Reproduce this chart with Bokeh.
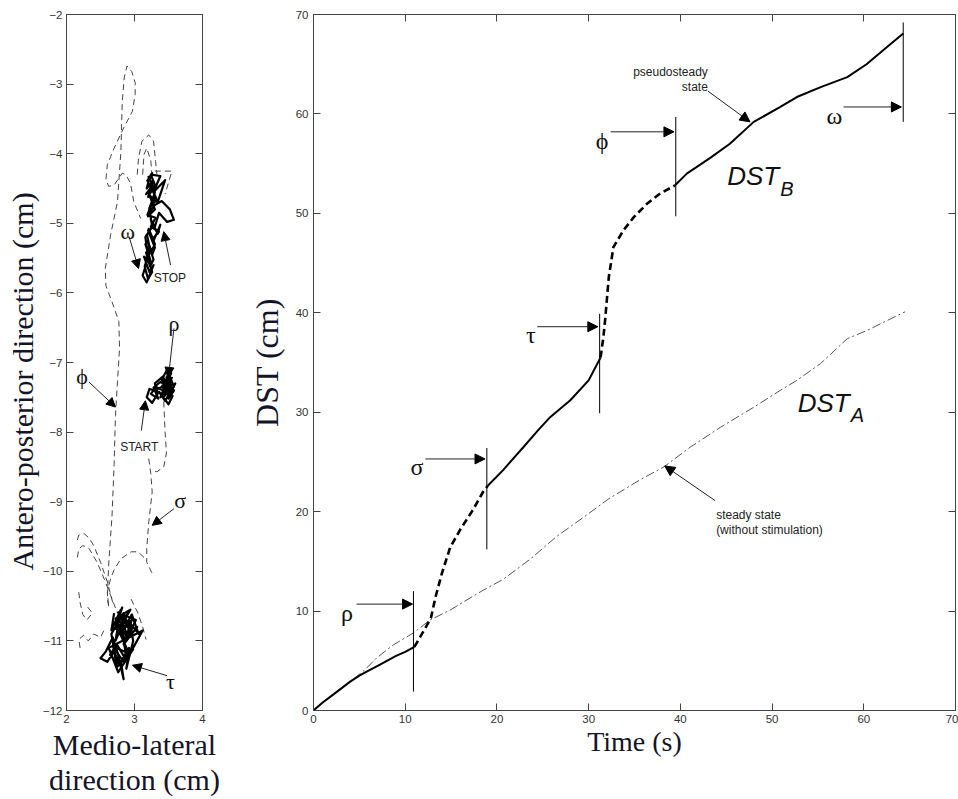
import math
from bokeh.plotting import figure
from bokeh.models import Range1d, LinearAxis, FixedTicker, Arrow, NormalHead, Label, ColumnDataSource, Title
from bokeh.layouts import row
from bokeh.embed import file_html
from bokeh.resources import INLINE

# ---------------- Right panel data: DST vs time ----------------
b_solid1_t = [0, 1, 2, 3, 4, 5, 6, 7, 8, 9, 10, 11]
b_solid1_d = [0, 0.8, 1.5, 2.2, 2.9, 3.5, 4.0, 4.5, 5.0, 5.5, 5.9, 6.4]
b_dash1_t = [11, 11.5, 12.2, 12.8, 13.3, 14.0, 14.9, 16.0, 17.4, 18.5, 19.0]
b_dash1_d = [6.4, 7.2, 8.3, 9.3, 11.4, 13.8, 16.4, 18.2, 20.2, 22.0, 22.6]
b_solid2_t = [19.0, 20.7, 22.9, 24.5, 25.8, 28.0, 30.0, 31.3]
b_solid2_d = [22.6, 24.2, 26.5, 28.2, 29.5, 31.2, 33.2, 35.5]
b_dash2_t = [31.3, 31.6, 31.8, 32.2, 32.7, 33.8, 34.9, 36.4, 37.8, 39.4]
b_dash2_d = [35.5, 37.5, 39.3, 43.6, 46.6, 48.3, 49.6, 51.0, 52.0, 52.8]
b_solid3_t = [39.4, 40.7, 43.3, 45.4, 48.0, 50.9, 52.7, 55.3, 58.2, 60.3, 62.5, 64.3]
b_solid3_d = [52.8, 54.0, 55.6, 57.0, 59.2, 60.7, 61.7, 62.7, 63.7, 65.0, 66.7, 68.1]

a_t = [0, 2, 4, 5.5, 6.9, 8.7, 10.9, 12.7, 14.9, 16.5, 18.5, 20.7, 23.6, 26.5, 29.4,
       32.2, 35.6, 38.2, 41.1, 44.4, 48.0, 50.9, 52.7, 55.3, 58.2, 60.3, 62.5, 64.5]
a_d = [0, 1.5, 2.9, 4.0, 5.3, 6.6, 7.8, 9.1, 10.1, 11.0, 12.1, 13.2, 15.2, 17.5, 19.4,
       21.3, 23.2, 24.5, 26.5, 28.5, 30.5, 32.2, 33.2, 34.9, 37.4, 38.2, 39.2, 40.1]

phase_names = ["ρ", "σ", "τ", "ϕ", "ω"]
phase_t = [10.9, 18.9, 31.2, 39.5, 64.3]
phase_lo = [1.9, 16.2, 29.9, 49.7, 59.2]
phase_hi = [12.0, 26.4, 39.9, 59.7, 69.2]

# ---------------- Left panel data: stabilogram ----------------
rho_x = [3.50, 3.46, 3.55, 3.42, 3.58, 3.48, 3.40, 3.52, 3.60, 3.45, 3.36, 3.50, 3.56, 3.40,
         3.30, 3.22, 3.18, 3.26, 3.34, 3.30, 3.42, 3.48, 3.38, 3.54, 3.44, 3.58, 3.50, 3.47]
rho_y = [-7.15, -7.30, -7.22, -7.40, -7.35, -7.10, -7.25, -7.45, -7.30, -7.55, -7.42, -7.60, -7.48, -7.35,
         -7.40, -7.38, -7.50, -7.58, -7.45, -7.30, -7.20, -7.38, -7.50, -7.15, -7.28, -7.40, -7.52, -7.20]
rho2_x = [3.46, 3.53, 3.41, 3.57, 3.49, 3.44, 3.55, 3.38, 3.28, 3.35, 3.24, 3.32, 3.45, 3.52, 3.48]
rho2_y = [-7.12, -7.25, -7.33, -7.42, -7.18, -7.48, -7.36, -7.28, -7.36, -7.52, -7.45, -7.35, -7.42, -7.30, -7.08]

tau_x = [2.70, 2.66, 2.80, 2.72, 2.90, 2.78, 2.96, 2.84, 3.04, 2.92, 3.12, 2.98, 2.86, 2.74, 2.64,
         2.78, 2.70, 2.60, 2.50, 2.58, 2.68, 2.76, 2.84, 2.80, 2.92, 2.88, 2.98, 2.94, 3.06, 2.96,
         2.86, 2.76, 2.82, 2.72, 2.90, 2.80, 2.94, 2.84, 2.74]
tau_y = [-10.60, -10.85, -10.55, -11.00, -10.60, -10.90, -10.70, -11.05, -10.80, -10.95, -10.85,
         -11.10, -11.25, -11.05, -11.20, -11.35, -11.15, -11.30, -11.25, -11.15, -10.95, -11.20,
         -11.55, -11.30, -11.10, -11.40, -11.00, -10.75, -10.90, -10.62, -10.80, -10.70, -10.52,
         -10.75, -10.95, -10.65, -10.85, -10.60, -10.78]
tau2_x = [2.75, 2.88, 2.70, 2.95, 2.82, 3.02, 2.88, 2.78, 2.92, 2.68, 2.84, 2.98, 2.76, 2.62,
          2.86, 2.72, 2.94, 2.80, 2.88, 2.74, 2.66, 2.80]
tau2_y = [-10.58, -10.72, -10.82, -10.90, -10.62, -10.70, -11.00, -10.88, -11.18, -11.08, -11.30,
          -11.12, -11.45, -11.10, -10.98, -10.68, -10.55, -10.78, -11.22, -11.38, -10.90, -10.66]

omega_x = [3.22, 3.18, 3.26, 3.20, 3.30, 3.24, 3.38, 3.28, 3.45, 3.34, 3.22, 3.30, 3.20, 3.28,
           3.40, 3.52, 3.58, 3.48, 3.36, 3.30, 3.24, 3.34, 3.38, 3.28, 3.20, 3.30, 3.26, 3.16,
           3.24, 3.14, 3.22, 3.28, 3.18, 3.12, 3.20, 3.16, 3.26, 3.22, 3.30, 3.20, 3.26, 3.18]
omega_y = [-4.35, -4.50, -4.40, -4.62, -4.45, -4.30, -4.32, -4.55, -4.38, -4.70, -4.60, -4.80,
           -4.90, -4.75, -4.68, -4.80, -4.95, -4.98, -4.85, -5.05, -4.95, -5.15, -5.02, -5.25,
           -5.10, -5.35, -5.45, -5.30, -5.55, -5.48, -5.70, -5.60, -5.85, -5.75, -5.50, -5.20,
           -5.05, -4.80, -4.55, -4.42, -4.28, -4.40]
omega2_x = [3.20, 3.27, 3.17, 3.25, 3.33, 3.22, 3.29, 3.19, 3.31, 3.24, 3.36, 3.27, 3.21, 3.30,
            3.25, 3.19, 3.28, 3.23, 3.17, 3.26, 3.20, 3.15, 3.23, 3.18]
omega2_y = [-4.32, -4.45, -4.58, -4.50, -4.66, -4.78, -4.62, -4.88, -4.92, -5.05, -5.12, -5.22,
            -5.08, -5.30, -5.40, -5.25, -5.52, -5.62, -5.42, -5.70, -5.80, -5.62, -5.38, -5.15]

sigma_x = [3.43, 3.45, 3.47, 3.43, 3.33, 3.25]
sigma_y = [-7.56, -8.00, -8.30, -8.50, -8.57, -8.55]
sigma2_x = [3.21, 3.24, 3.26, 3.21, 3.18, 3.18, 3.26]
sigma2_y = [-8.38, -8.60, -8.86, -9.29, -9.67, -9.87, -10.03]
arc_x = [3.14, 3.05, 2.95, 2.80, 2.70, 2.65, 2.60, 2.62]
arc_y = [-9.80, -9.72, -9.72, -9.82, -9.98, -10.10, -10.30, -10.50]
phi_x = [2.62, 2.60, 2.62, 2.67, 2.70, 2.72, 2.75, 2.78, 2.77, 2.67, 2.58, 2.57, 2.65, 2.75,
         2.80, 2.82, 2.85, 2.89, 2.96, 3.01, 3.01, 2.97, 2.84, 2.70, 2.60, 2.58, 2.62, 2.70,
         2.82, 2.87, 2.94, 2.99, 3.09]
phi_y = [-10.50, -10.39, -9.91, -9.19, -8.47, -7.76, -7.27, -6.80, -6.41, -6.13, -5.90, -5.65,
         -5.16, -4.69, -3.97, -3.25, -2.90, -2.74, -2.82, -2.98, -3.15, -3.39, -3.63, -3.92,
         -4.16, -4.37, -4.47, -4.45, -4.28, -4.30, -4.42, -4.69, -4.93]
loop_x = [3.04, 3.06, 3.11, 3.21, 3.28, 3.31, 3.33]
loop_y = [-4.30, -4.06, -3.82, -3.73, -3.82, -4.11, -4.30]
loop2_x = [3.12, 3.14, 3.18, 3.24, 3.26]
loop2_y = [-4.30, -4.01, -3.92, -4.10, -4.35]
cap_x = [3.30, 3.55, 3.45]
cap_y = [-4.25, -4.25, -4.58]
bl1_x = [2.16, 2.18, 2.26, 2.33, 2.40, 2.50, 2.60, 2.68]
bl1_y = [-9.55, -9.48, -9.46, -9.52, -9.63, -9.87, -10.15, -10.45]
bl2_x = [2.16, 2.18, 2.24, 2.33, 2.45, 2.55, 2.65, 2.75]
bl2_y = [-9.80, -9.68, -9.63, -9.67, -9.87, -10.10, -10.35, -10.60]
bl3_x = [2.18, 2.20, 2.24, 2.30, 2.38, 2.30]
bl3_y = [-10.30, -10.45, -10.62, -10.70, -10.60, -10.50]
bl4_x = [2.20, 2.18, 2.25, 2.32, 2.40, 2.50, 2.55]
bl4_y = [-11.10, -10.98, -10.92, -11.00, -10.90, -10.95, -10.85]
br_x = [2.95, 3.05, 3.12, 3.17]
br_y = [-10.40, -10.60, -10.80, -10.98]

AX = "#444444"
TICK_FONT = "Liberation Sans"
LABEL_COLOR = "#141428"


def style_axis(ax):
    ax.axis_line_color = AX
    ax.major_tick_line_color = AX
    ax.major_tick_in = 7
    ax.major_tick_out = 0
    ax.minor_tick_line_color = None
    ax.major_label_text_font = TICK_FONT
    ax.major_label_text_font_size = "11.5px"
    ax.major_label_text_color = "#333333"


def add_box_axes(p, xticks, yticks):
    top = LinearAxis(ticker=FixedTicker(ticks=xticks),
                     major_label_overrides={t: "" for t in xticks})
    right = LinearAxis(ticker=FixedTicker(ticks=yticks),
                       major_label_overrides={t: "" for t in yticks})
    for ax in (top, right):
        style_axis(ax)
        ax.major_label_standoff = 0
    p.add_layout(top, "above")
    p.add_layout(right, "right")


def style_label(ax, size, standoff):
    ax.axis_label_text_font = "Liberation Serif"
    ax.axis_label_text_font_size = size
    ax.axis_label_text_font_style = "normal"
    ax.axis_label_text_color = LABEL_COLOR
    ax.axis_label_standoff = standoff


H = 799
TOP = 14
FRAME_H = 696

# ---------------- Left figure ----------------
pl = figure(width=240, height=H, x_range=Range1d(2, 4), y_range=Range1d(-12, -2),
            output_backend="svg", toolbar_location=None,
            min_border_left=66, min_border_right=38, min_border_top=TOP,
            min_border_bottom=H - TOP - FRAME_H)
pl.grid.visible = False
pl.outline_line_color = AX
lx = pl.below[0]
ly = pl.left[0]
lx.ticker = FixedTicker(ticks=[2, 3, 4])
ly.ticker = FixedTicker(ticks=list(range(-12, -1)))
style_axis(lx)
style_axis(ly)
ly.major_label_standoff = 4
lx.major_label_standoff = 4
lx.axis_label = "Medio-lateral\ndirection (cm)"
style_label(lx, "30px", 2)
lx.axis_label_text_line_height = 1.08
add_box_axes(pl, [2, 3, 4], list(range(-12, -1)))
pl.add_layout(Title(text="Antero-posterior direction (cm)", align="left", offset=140,
                    text_font="Liberation Serif", text_font_size="30px",
                    text_font_style="normal", text_color=LABEL_COLOR, standoff=2), "left")

dash_xs = [sigma_x, sigma2_x, arc_x, phi_x, loop_x, loop2_x, cap_x, bl1_x, bl2_x, bl3_x, bl4_x, br_x]
dash_ys = [sigma_y, sigma2_y, arc_y, phi_y, loop_y, loop2_y, cap_y, bl1_y, bl2_y, bl3_y, bl4_y, br_y]
pl.multi_line(xs=dash_xs, ys=dash_ys, line_color="#444444", line_width=1, line_dash="6 4")
pl.multi_line(xs=[rho_x, rho2_x, tau_x, tau2_x, omega_x, omega2_x],
              ys=[rho_y, rho2_y, tau_y, tau2_y, omega_y, omega2_y],
              line_color="black", line_width=2.2, line_join="round")

left_arrows = ColumnDataSource(dict(
    x0=[2.92, 3.53, 3.58, 2.33, 3.10, 3.58, 3.48],
    y0=[-5.19, -5.60, -6.51, -7.28, -7.98, -9.10, -11.50],
    x1=[3.06, 3.43, 3.50, 2.72, 3.16, 3.26, 2.97],
    y1=[-5.65, -5.12, -7.20, -7.64, -7.55, -9.34, -11.35]))
pl.add_layout(Arrow(end=NormalHead(size=9, fill_color="black", line_color="black"),
                    x_start="x0", y_start="y0", x_end="x1", y_end="y1",
                    source=left_arrows, line_width=1, line_color="#222222"))

for txt, x, y in [("ω", 2.90, -5.12), ("ρ", 3.58, -6.44), ("ϕ", 2.23, -7.20),
                  ("σ", 3.67, -8.98), ("τ", 3.53, -11.59)]:
    pl.add_layout(Label(x=x, y=y, text=txt, text_font="Liberation Serif", text_font_size="22px",
                        text_align="center", text_baseline="alphabetic", text_color="#111111"))
for txt, x, y in [("STOP", 3.52, -5.79), ("START", 3.07, -8.21)]:
    pl.add_layout(Label(x=x, y=y, text=txt, text_font="Liberation Sans", text_font_size="12px",
                        text_align="center", text_baseline="alphabetic", text_color="#222222"))

# ---------------- Right figure ----------------
pr = figure(width=718, height=H, x_range=Range1d(0, 70), y_range=Range1d(0, 70),
            output_backend="svg", toolbar_location=None,
            min_border_left=73, min_border_right=3, min_border_top=TOP,
            min_border_bottom=H - TOP - FRAME_H)
pr.grid.visible = False
pr.outline_line_color = AX
ticks = list(range(0, 71, 10))
rx = pr.below[0]
ry = pr.left[0]
rx.ticker = FixedTicker(ticks=ticks)
ry.ticker = FixedTicker(ticks=ticks)
style_axis(rx)
style_axis(ry)
rx.major_label_standoff = 4
rx.axis_label = "Time (s)"
ry.axis_label = "DST (cm)"
style_label(rx, "28px", 0)
style_label(ry, "32px", 8)
add_box_axes(pr, ticks, ticks)

pr.line(a_t, a_d, line_color="#555555", line_width=1, line_dash="9 3 2 3")
pr.multi_line(xs=[b_solid1_t, b_solid2_t, b_solid3_t], ys=[b_solid1_d, b_solid2_d, b_solid3_d],
              line_color="black", line_width=2)
pr.multi_line(xs=[b_dash1_t, b_dash2_t], ys=[b_dash1_d, b_dash2_d],
              line_color="black", line_width=2.6, line_dash="7 4")
pr.segment(x0=phase_t, y0=phase_lo, x1=phase_t, y1=phase_hi, line_color="black", line_width=1)

right_arrows = ColumnDataSource(dict(
    x0=[4.7, 12.2, 24.4, 32.4, 57.8, 43.0, 43.8],
    y0=[10.7, 25.3, 38.6, 58.2, 60.7, 62.3, 21.1],
    x1=[10.8, 18.7, 31.0, 39.3, 64.1, 47.6, 38.3],
    y1=[10.7, 25.3, 38.6, 58.2, 60.7, 59.2, 24.6]))
pr.add_layout(Arrow(end=NormalHead(size=10, fill_color="black", line_color="black"),
                    x_start="x0", y_start="y0", x_end="x1", y_end="y1",
                    source=right_arrows, line_width=1, line_color="#222222"))

for txt, x, y in zip(phase_names, [3.64, 11.28, 23.7, 31.45, 56.8], [9.8, 24.45, 37.75, 57.3, 59.8]):
    pr.add_layout(Label(x=x, y=y, text=txt, text_font="Liberation Serif", text_font_size="24px",
                        text_align="center", text_baseline="alphabetic", text_color="#111111"))

for txt, x, y, al in [("pseudosteady", 43.0, 64.2, "right"), ("state", 43.0, 62.75, "right"),
                      ("steady state", 43.9, 19.7, "left"), ("(without stimulation)", 43.9, 18.2, "left")]:
    pr.add_layout(Label(x=x, y=y, text=txt, text_font="Liberation Sans", text_font_size="12px",
                        text_align=al, text_baseline="alphabetic", text_color="#222222"))

for sub, x, y, ys in [("B", 45.1, 53.8, 52.5), ("A", 52.8, 30.9, 29.7)]:
    pr.add_layout(Label(x=x, y=y, text="DST", text_font="Liberation Sans", text_font_style="italic",
                        text_font_size="26px", text_baseline="alphabetic", text_color="#111111"))
    pr.add_layout(Label(x=x, y=ys, x_offset=53, text=sub, text_font="Liberation Sans",
                        text_font_style="italic", text_font_size="20px", text_baseline="alphabetic",
                        text_color="#111111"))

layout = row(pl, pr)
open("out.html", "w").write(file_html(layout, INLINE))
